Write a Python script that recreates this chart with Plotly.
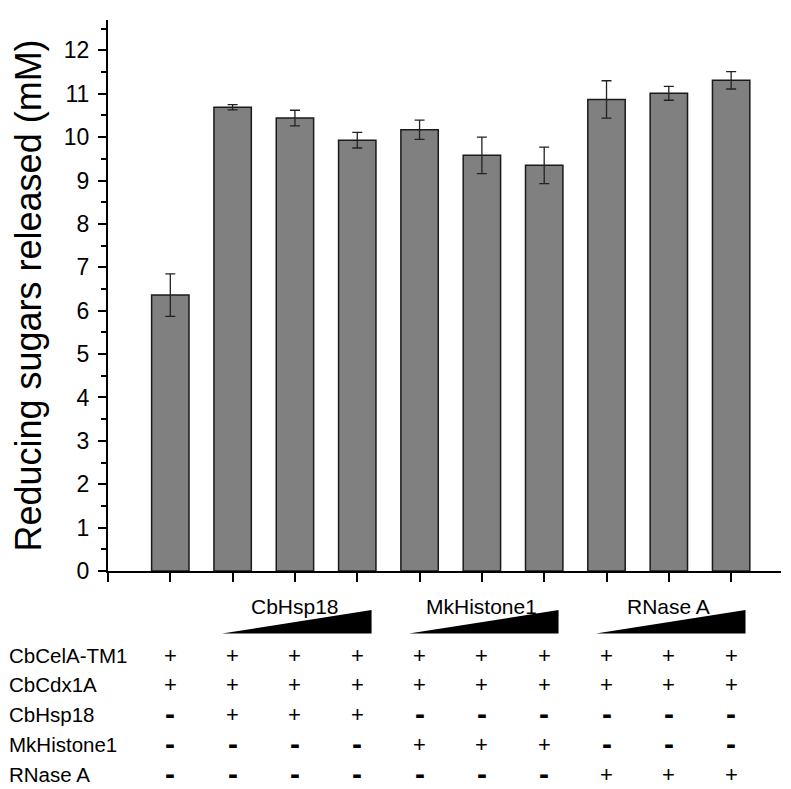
import plotly.graph_objects as go

# ---- data ----
positions = [1, 2, 3, 4, 5, 6, 7, 8, 9, 10]
values = [6.36, 10.69, 10.44, 9.93, 10.17, 9.58, 9.35, 10.87, 11.01, 11.31]
errors = [0.49, 0.06, 0.18, 0.18, 0.22, 0.42, 0.42, 0.43, 0.16, 0.20]

group_names = ["CbHsp18", "MkHistone1", "RNase A"]
group_first = [2, 5, 8]
group_last = [4, 7, 10]

row_labels = ["CbCelA-TM1", "CbCdx1A", "CbHsp18", "MkHistone1", "RNase A"]
row_signs = [
    ["+", "+", "+", "+", "+", "+", "+", "+", "+", "+"],
    ["+", "+", "+", "+", "+", "+", "+", "+", "+", "+"],
    ["-", "+", "+", "+", "-", "-", "-", "-", "-", "-"],
    ["-", "-", "-", "-", "+", "+", "+", "-", "-", "-"],
    ["-", "-", "-", "-", "-", "-", "-", "+", "+", "+"],
]

y_ticks = list(range(0, 13))

# ---- layout geometry (page body has an 8px margin) ----
OFF = 8
W, H = 791 - OFF, 789 - OFF
m_top, m_left, m_right = 20 - OFF, 108 - OFF, 10
plot_bottom_px = 571 - OFF
m_bottom = H - plot_bottom_px
plot_h = plot_bottom_px - m_top
plot_w = W - m_left - m_right


def py2paper(py):
    # py given in screenshot pixels
    return (plot_bottom_px - (py - OFF)) / plot_h


def px2paper(px):
    return (px - OFF - m_left) / plot_w


FONT = "Arial, Liberation Sans, sans-serif"

fig = go.Figure()
fig.add_trace(go.Bar(
    x=positions, y=values, width=0.6,
    marker=dict(color="#808080", line=dict(color="#1a1a1a", width=1.5)),
    error_y=dict(type="data", array=errors, color="#222222", thickness=1.3, width=5),
    showlegend=False,
))

annotations = []
shapes = []

# group labels and wedges
for name, a, b in zip(group_names, group_first, group_last):
    annotations.append(dict(
        x=(a + b) / 2, y=py2paper(606), xref="x", yref="paper",
        text=name, showarrow=False, font=dict(family=FONT, size=21, color="black"),
        xanchor="center", yanchor="middle"))
    x0 = a - 0.17
    x1 = b + 0.23
    y0 = py2paper(633.5)
    y1 = py2paper(610)
    shapes.append(dict(
        type="path", xref="x", yref="paper",
        path=f"M {x0} {y0} L {x1} {y0} L {x1} {y1} Z",
        fillcolor="black", line=dict(color="black", width=0)))

# table
row_py = [655, 684.5, 714, 744, 774]
for label, signs, py in zip(row_labels, row_signs, row_py):
    annotations.append(dict(
        x=px2paper(7), y=py2paper(py), xref="paper", yref="paper",
        text=label, showarrow=False, font=dict(family=FONT, size=20.5, color="black"),
        xanchor="left", yanchor="middle"))
    for pos, s in zip(positions, signs):
        if s == "+":
            annotations.append(dict(
                x=pos, y=py2paper(py), xref="x", yref="paper",
                text="+", showarrow=False,
                font=dict(family=FONT, size=22, color="black"),
                xanchor="center", yanchor="middle"))
        else:
            annotations.append(dict(
                x=pos, y=py2paper(py - 1), xref="x", yref="paper",
                text="<b>-</b>", showarrow=False,
                font=dict(family=FONT, size=30, color="black"),
                xanchor="center", yanchor="middle"))

fig.update_layout(
    width=W, height=H,
    margin=dict(l=m_left, r=m_right, t=m_top, b=m_bottom, autoexpand=False),
    plot_bgcolor="white", paper_bgcolor="white",
    font=dict(family=FONT, color="black"),
    annotations=annotations, shapes=shapes,
    xaxis=dict(
        range=[0, 10.8], tickvals=[0] + positions, showticklabels=False,
        ticks="outside", ticklen=9, tickwidth=1.8, tickcolor="black",
        showline=True, linecolor="black", linewidth=2, showgrid=False,
        zeroline=False, automargin=False,
    ),
    yaxis=dict(
        range=[0, 12.7], tickvals=y_ticks,
        ticks="outside", ticklen=8, tickwidth=1.8, tickcolor="black",
        tickfont=dict(family=FONT, size=23, color="black"),
        ticklabelstandoff=4,
        showline=True, linecolor="black", linewidth=2, showgrid=False,
        zeroline=False, automargin=False,
        minor=dict(dtick=0.5, ticks="outside", ticklen=5, tickwidth=1.5, tickcolor="black"),
        title=dict(text="Reducing sugars released (mM)",
                   font=dict(family=FONT, size=36, color="black"), standoff=14),
    ),
)

fig.write_html("out.html")
